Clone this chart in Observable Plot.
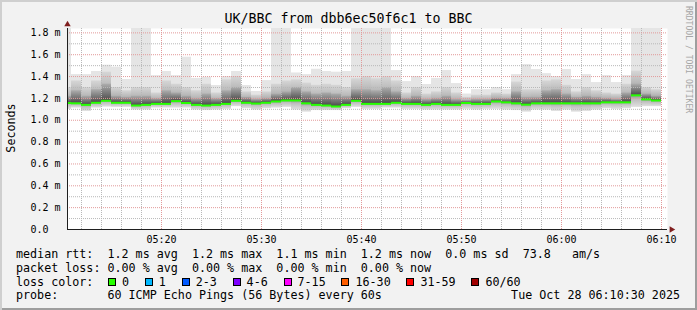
<!DOCTYPE html>
<html><head><meta charset="utf-8">
<script src="https://cdn.jsdelivr.net/npm/d3@7"></script>
<script src="https://cdn.jsdelivr.net/npm/@observablehq/plot@0.6"></script>
<style>
body{margin:0;background:#f2f2f2;}
#wrap{position:relative;width:697px;height:310px;background:#f2f2f2;box-shadow:inset 2px 2px 0 #cfcfcf, inset -2px -2px 0 #9e9e9e;overflow:hidden;font-family:"DejaVu Sans Mono",monospace;color:#000;}
#title{position:absolute;left:0;width:697px;top:11px;text-align:center;font-size:13.3px;line-height:16px;white-space:pre;}
#chart{position:absolute;left:0;top:24px;}
#chart svg{display:block;}
#ylab{position:absolute;left:11px;top:128px;transform:translate(-50%,-50%) rotate(-90deg);font-size:11.7px;line-height:14px;white-space:nowrap;}
#credit{position:absolute;left:683.5px;top:6px;writing-mode:vertical-rl;font-size:8.1px;line-height:10px;color:#a6a6a6;white-space:nowrap;}
#legend{position:absolute;left:16px;top:248px;font-size:11.7px;line-height:13.8px;white-space:pre;}
#legend .lab{display:inline-block;width:92px;}
#legend .item{display:inline-block;margin-right:15.8px;}
#legend .box{display:inline-block;width:6px;height:6px;border:1px solid #000;margin-right:6px;vertical-align:baseline;}
#date{position:absolute;right:17px;top:289.4px;font-size:11.7px;line-height:13.8px;white-space:pre;}
</style>
</head><body>
<div id="wrap">
  <div id="title"></div>
  <div id="chart"></div>
  <div id="ylab"></div>
  <div id="credit"></div>
  <div id="legend"></div>
  <div id="date"></div>
</div>
<script>
// ---- data ----
const titleText = "UK/BBC from dbb6ec50f6c1 to BBC";
const yLabel = "Seconds";
const creditText = "RRDTOOL / TOBI OETIKER";
const day = "2025-10-28";
const windowStart = "05:10:36";
const windowEnd = "06:10:36";

const minutes = ["05:10","05:11","05:12","05:13","05:14","05:15","05:16","05:17","05:18","05:19",
  "05:20","05:21","05:22","05:23","05:24","05:25","05:26","05:27","05:28","05:29",
  "05:30","05:31","05:32","05:33","05:34","05:35","05:36","05:37","05:38","05:39",
  "05:40","05:41","05:42","05:43","05:44","05:45","05:46","05:47","05:48","05:49",
  "05:50","05:51","05:52","05:53","05:54","05:55","05:56","05:57","05:58","05:59",
  "06:00","06:01","06:02","06:03","06:04","06:05","06:06","06:07","06:08","06:09"];

// median RTT per minute (ms)
const medianRtt = [1.158,1.155,1.141,1.160,1.178,1.160,1.160,1.135,1.141,1.150,
  1.150,1.175,1.158,1.141,1.135,1.141,1.150,1.178,1.160,1.153,
  1.160,1.172,1.181,1.181,1.155,1.141,1.135,1.126,1.141,1.178,
  1.150,1.150,1.150,1.160,1.150,1.150,1.141,1.150,1.141,1.141,
  1.158,1.150,1.150,1.172,1.164,1.155,1.143,1.155,1.155,1.155,
  1.155,1.155,1.155,1.155,1.164,1.164,1.164,1.228,1.191,1.181];
// slowest ping per minute (ms), clipped at top of graph
const maxRtt = [1.84,1.418,1.418,1.446,1.504,1.486,1.373,1.84,1.84,1.409,
  1.446,1.409,1.577,1.382,1.394,1.318,1.400,1.446,1.318,1.263,
  1.363,1.84,1.84,1.433,1.418,1.467,1.446,1.440,1.446,1.84,
  1.84,1.84,1.84,1.455,1.354,1.400,1.327,1.382,1.455,1.336,
  1.240,1.280,1.280,1.300,1.280,1.418,1.510,1.464,1.427,1.400,
  1.464,1.373,1.418,1.345,1.410,1.345,1.410,1.84,1.84,1.84];
// fastest ping per minute (ms)
const minRtt = [1.100,1.113,1.082,1.113,1.122,1.119,1.119,1.095,1.095,1.113,
  1.113,1.113,1.113,1.095,1.089,1.095,1.101,1.125,1.107,1.095,
  1.107,1.113,1.119,1.095,1.076,1.089,1.089,1.089,1.107,1.119,
  1.101,1.101,1.113,1.113,1.101,1.101,1.095,1.095,1.095,1.095,
  1.101,1.095,1.101,1.101,1.095,1.089,1.076,1.095,1.095,1.082,
  1.095,1.076,1.082,1.095,1.107,1.101,1.107,1.119,1.125,1.125];
// upper smoke levels (ms)
const p90Rtt = [1.30,1.36,1.30,1.36,1.44,1.30,1.27,1.30,1.30,1.25,
  1.36,1.33,1.30,1.27,1.33,1.25,1.37,1.40,1.26,1.23,
  1.26,1.33,1.36,1.37,1.34,1.32,1.33,1.32,1.30,1.38,
  1.40,1.38,1.40,1.36,1.25,1.30,1.24,1.26,1.30,1.25,
  1.21,1.23,1.23,1.25,1.24,1.35,1.28,1.28,1.36,1.37,
  1.32,1.26,1.30,1.27,1.25,1.24,1.33,1.45,1.30,1.28];
const p75Rtt = [1.22,1.27,1.22,1.28,1.33,1.22,1.21,1.22,1.22,1.20,
  1.27,1.25,1.22,1.20,1.24,1.20,1.27,1.30,1.21,1.19,
  1.20,1.24,1.26,1.30,1.26,1.24,1.25,1.24,1.22,1.28,
  1.28,1.27,1.30,1.26,1.20,1.22,1.19,1.20,1.22,1.19,
  1.18,1.19,1.19,1.20,1.20,1.26,1.21,1.21,1.27,1.28,
  1.24,1.21,1.22,1.21,1.20,1.19,1.25,1.33,1.24,1.22];

const yTicks = [0,0.2,0.4,0.6,0.8,1.0,1.2,1.4,1.6,1.8];
const yMinorGrid = [0.1,0.3,0.5,0.7,0.9,1.1,1.3,1.5,1.7];
const yMajorGrid = [0.2,0.4,0.6,0.8,1.0,1.2,1.4,1.6,1.8];
const yMax = 1.84;
const xTickLabels = ["05:20","05:30","05:40","05:50","06:00","06:10"];
const xMinorGridLabels = ["05:12","05:14","05:16","05:18","05:22","05:24","05:26","05:28",
  "05:32","05:34","05:36","05:38","05:42","05:44","05:46","05:48","05:52","05:54","05:56","05:58",
  "06:02","06:04","06:06","06:08"];

const legendRow1 = "median rtt:  1.2 ms avg  1.2 ms max  1.1 ms min  1.2 ms now  0.0 ms sd  73.8   am/s";
const legendRow2 = "packet loss: 0.00 % avg  0.00 % max  0.00 % min  0.00 % now";
const lossLabel = "loss color:";
const lossNames = ["0","1","2-3","4-6","7-15","16-30","31-59","60/60"];
const lossColors = ["#26ff00","#00b8ff","#0059ff","#7e00ff","#ff00ff","#ff5e00","#ff0000","#a00000"];
const probeLabel = "probe:       60 ICMP Echo Pings (56 Bytes) every 60s";
const dateText = "Tue Oct 28 06:10:30 2025";

// ---- build ----
const toDate = s => new Date(`${day}T${s.length === 5 ? s + ":00" : s}Z`);
const rows = minutes.map((m, i) => ({
  t: toDate(m), t2: new Date(+toDate(m) + 60000),
  med: medianRtt[i], max: maxRtt[i], min: minRtt[i], p90: p90Rtt[i], p75: p75Rtt[i]
}));
const xDomain = [toDate(windowStart), toDate(windowEnd)];
const xTicks = xTickLabels.map(toDate);
const xMinor = xMinorGridLabels.map(toDate);

const fmtTime = d3.utcFormat("%H:%M");
const gridMinor = {stroke: "#b8b8b8", strokeDasharray: "1,1"};
const gridMajor = {stroke: "#e29a9a", strokeDasharray: "1,1"};
const arrowColor = "#801f1f";

const plot = Plot.plot({
  width: 697,
  height: 224,
  marginLeft: 67,
  marginRight: 30,
  marginTop: 4,
  marginBottom: 19,
  style: {background: "transparent", fontFamily: "'DejaVu Sans Mono', monospace", fontSize: "10px", color: "#000", overflow: "visible"},
  x: {type: "utc", domain: xDomain},
  y: {domain: [0, yMax]},
  marks: [
    Plot.frame({fill: "#ffffff", stroke: "none"}),
    Plot.rect(rows, {x1: "t", x2: "t2", y1: "min", y2: "max", fill: "#e5e5e5", clip: true}),
    Plot.rect(rows, {x1: "t", x2: "t2", y1: "min", y2: "med", fill: "url(#smokeLow)", clip: true}),
    Plot.rect(rows, {x1: "t", x2: "t2", y1: "med", y2: "p90", fill: "url(#smokeMid)", clip: true}),
    Plot.rect(rows, {x1: "t", x2: "t2", y1: "med", y2: "p75", fill: "url(#smokeDark)", clip: true}),
    Plot.ruleY(yMinorGrid, gridMinor),
    Plot.ruleX(xMinor, gridMinor),
    Plot.ruleY(yMajorGrid, gridMajor),
    Plot.ruleX(xTicks, gridMajor),
    Plot.ruleY(rows, {x1: "t", x2: "t2", y: "med", stroke: "#26ff00", strokeWidth: 2, clip: true}),
    Plot.ruleY([0], {stroke: "#1f1f1f"}),
    Plot.ruleX([xDomain[0]], {stroke: "#1f1f1f"}),
    Plot.axisY(yTicks, {tickSize: 0, tickPadding: 7, label: null, fontSize: 10,
      tickFormat: d => d === 0 ? "0.0\u00a0\u00a0" : d.toFixed(1) + " m"}),
    Plot.axisX(xTicks, {tickSize: 0, tickPadding: 6, label: null, fontSize: 10, tickFormat: fmtTime}),
    Plot.dot([0], {frameAnchor: "top-left", symbol: "triangle", r: 2.4, fill: arrowColor, stroke: "none", dy: -4}),
    Plot.dot([0], {frameAnchor: "bottom-right", symbol: "triangle", rotate: 90, r: 2.4, fill: arrowColor, stroke: "none", dx: 4})
  ]
});
// smoke shading gradients (style only)
d3.select(plot).insert("defs", ":first-child").html(`
  <linearGradient id="smokeLow" x1="0" y1="0" x2="0" y2="1">
    <stop offset="0" stop-color="#8c8c8c"/><stop offset="0.35" stop-color="#bdbdbd"/><stop offset="1" stop-color="#e0e0e0"/>
  </linearGradient>
  <linearGradient id="smokeMid" x1="0" y1="0" x2="0" y2="1">
    <stop offset="0" stop-color="#d6d6d6"/><stop offset="1" stop-color="#9a9a9a"/>
  </linearGradient>
  <linearGradient id="smokeDark" x1="0" y1="0" x2="0" y2="1">
    <stop offset="0" stop-color="#adadad"/><stop offset="0.7" stop-color="#6a6a6a"/><stop offset="1" stop-color="#4a4a4a"/>
  </linearGradient>`);
document.getElementById("chart").append(plot);

document.getElementById("title").textContent = titleText;
document.getElementById("ylab").textContent = yLabel;
document.getElementById("credit").textContent = creditText;
document.getElementById("date").textContent = dateText;

const legend = document.getElementById("legend");
const r1 = document.createElement("div"); r1.textContent = legendRow1; legend.append(r1);
const r2 = document.createElement("div"); r2.textContent = legendRow2; legend.append(r2);
const r3 = document.createElement("div");
const lab = document.createElement("span"); lab.className = "lab"; lab.textContent = lossLabel; r3.append(lab);
lossNames.forEach((n, i) => {
  const it = document.createElement("span"); it.className = "item";
  const b = document.createElement("span"); b.className = "box"; b.style.background = lossColors[i];
  it.append(b, document.createTextNode(n));
  r3.append(it);
});
legend.append(r3);
const r4 = document.createElement("div"); r4.textContent = probeLabel; legend.append(r4);
</script>
</body></html>
